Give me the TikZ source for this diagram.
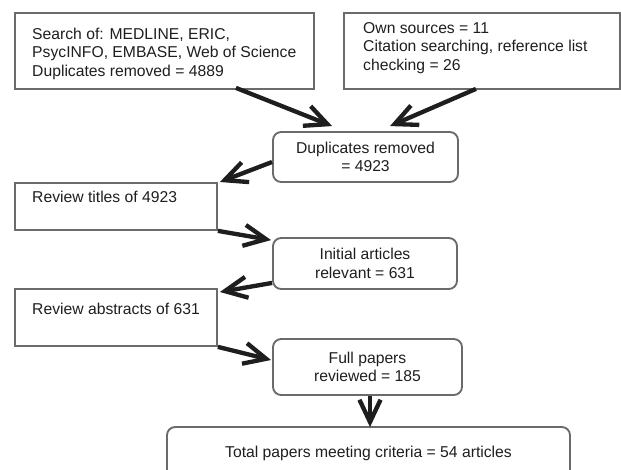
\documentclass[tikz,border=0pt]{standalone}
\usepackage{fontspec}
\setmainfont{Liberation Sans}
\usetikzlibrary{arrows.meta,positioning,calc}
\definecolor{boxgray}{HTML}{6B6B6B}
\definecolor{inkdark}{HTML}{1E1E1E}
\newcommand{\boxfont}{\fontsize{13.4}{15.6}\selectfont}
\tikzset{
  % plain frame, text placed inside by hand
  sqbox/.style   = {rectangle, draw=boxgray, line width=1.6pt, inner sep=0pt, anchor=north west},
  % rounded frame with centred text
  rbox/.style    = {rectangle, rounded corners=7pt, draw=boxgray, line width=1.6pt,
                    align=center, inner sep=0pt, text=inkdark, font=\boxfont},
  boxtxt/.style  = {anchor=north west, inner sep=0pt, align=left, text=inkdark, font=\boxfont},
  flow/.style    = {-{Straight Barb[length=19pt,width=18pt]}, line width=3.7pt, inkdark},
}

\begin{document}
\begin{tikzpicture}[x=0.03cm,y=-0.03cm]
\useasboundingbox (0,0) rectangle (621,469);
% ---- sources --------------------------------------------------------
\node[sqbox, minimum width=8.97cm, minimum height=2.28cm] (search) at (14,12) {};
\node[boxtxt] (searchtxt) at (32,28)
      {Search of: MEDLINE, ERIC,\\PsycINFO, EMBASE, Web of Science\\Duplicates removed = 4889};
\node[sqbox, minimum width=8.28cm, minimum height=2.28cm] (own) at (343,12) {};
\node[boxtxt] (owntxt) at (363,22.5)
      {Own sources = 11\\Citation searching, reference list\\checking = 26};

% ---- screening ------------------------------------------------------
\node[rbox, minimum width=5.55cm, minimum height=1.5cm] (dup) at (365.5,157) {Duplicates removed\\= 4923};
\node[sqbox, minimum width=6.06cm, minimum height=1.41cm] (titles) at (14,182) {};
\node[boxtxt] (titlestxt) at (32,191) {Review titles of 4923};
\node[rbox, minimum width=5.52cm, minimum height=1.53cm] (initial) at (365,263.5) {Initial articles\\relevant = 631};
\node[sqbox, minimum width=6.06cm, minimum height=1.71cm] (abstracts) at (14,288) {};
\node[boxtxt] (abstractstxt) at (32,303) {Review abstracts of 631};
\node[rbox, minimum width=5.67cm, minimum height=1.68cm] (full) at (367.5,367) {Full papers\\reviewed = 185};
\node[rbox, minimum width=12.09cm, minimum height=1.59cm] (total) at (368.5,453.5)
      {Total papers meeting criteria = 54 articles};

% ---- arrows ---------------------------------------------------------
\draw[flow] ([xshift=2.145cm,yshift=0.06cm]search.south) -- ([xshift=-1.0cm,yshift=0.15cm]dup.north);
\draw[flow] ([xshift=-0.18cm,yshift=0.03cm]own.south) -- ([xshift=0.735cm,yshift=0.15cm]dup.north);
\draw[flow] ([yshift=-0.15cm]dup.west) -- ([xshift=0.06cm]titles.north east);
\draw[flow] (titles.south east) -- ([xshift=-0.03cm,yshift=-0.09cm]initial.north west);
\draw[flow] ([yshift=0.21cm]initial.south west) -- ([xshift=0.06cm,yshift=-0.12cm]abstracts.north east);
\draw[flow] (abstracts.south east) -- ([xshift=-0.03cm,yshift=0.21cm]full.west);
\draw[flow] ([xshift=0.075cm]full.south) -- ([xshift=0.075cm,yshift=-0.03cm]full.south |- total.north);
\end{tikzpicture}
\end{document}
